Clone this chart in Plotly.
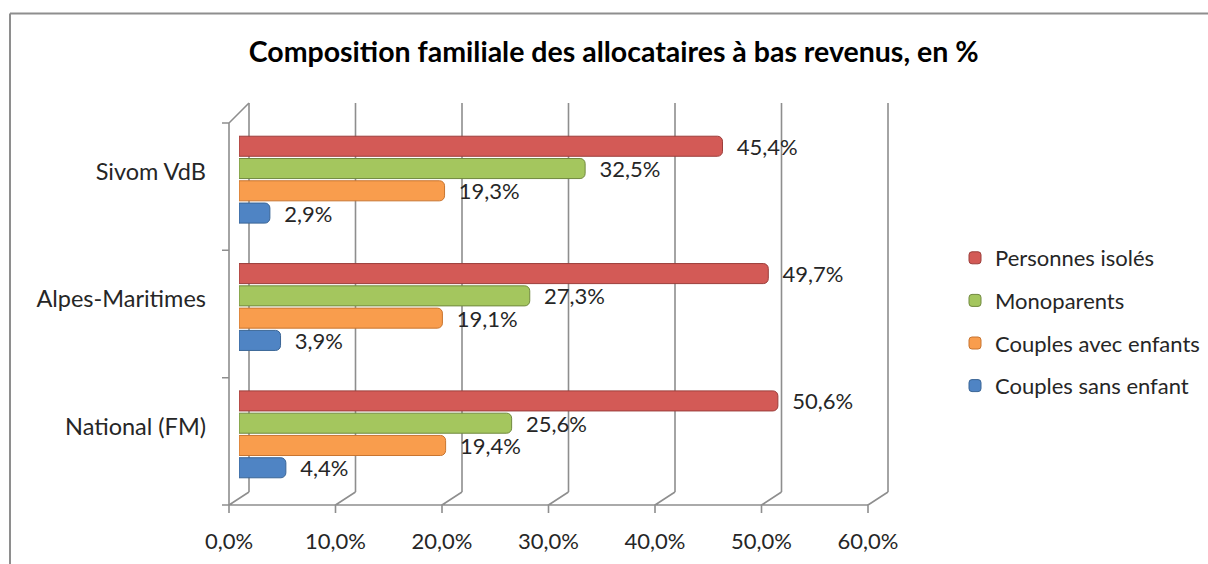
import plotly.graph_objects as go

# ---- data ----
categories = ["Sivom VdB", "Alpes-Maritimes", "National (FM)"]
series_names = ["Personnes isolés", "Monoparents", "Couples avec enfants", "Couples sans enfant"]
personnes_isoles = [45.4, 49.7, 50.6]
monoparents = [32.5, 27.3, 25.6]
couples_avec_enfants = [19.3, 19.1, 19.4]
couples_sans_enfant = [2.9, 3.9, 4.4]
x_ticks = [0, 10, 20, 30, 40, 50, 60]
x_tick_labels = ["0,0%", "10,0%", "20,0%", "30,0%", "40,0%", "50,0%", "60,0%"]

series_values = [personnes_isoles, monoparents, couples_avec_enfants, couples_sans_enfant]
fill_colors = ["#D35A56", "#A4C65E", "#F99D4D", "#4F84C4"]
edge_colors = ["#9C3E3B", "#71893F", "#C87530", "#3A6595"]

W, H = 1208, 564
ML, MR, MT, MB = 239, 330, 116, 66
PW = W - ML - MR
PH = H - MT - MB
XMAX = 60
upx = PW / XMAX  # pixels per unit

fig = go.Figure()
for i, (name, vals) in enumerate(zip(series_names, series_values)):
    fig.add_trace(go.Bar(
        y=categories, x=vals, orientation="h", name=name,
        marker=dict(color=fill_colors[i], line=dict(color=edge_colors[i], width=1), cornerradius=5),
        text=vals, texttemplate="\u00a0\u00a0%{x:.1f}%", textposition="outside",
        textfont=dict(family="Lato", size=22, color="#262626"),
        constraintext="none", cliponaxis=False,
        legendgroup=name,
    ))

line_col = "#8e8e8e"
shapes = []
# 3D back-wall gridlines with floor diagonals, front floor edge and front tick marks
back_top = PH + 13
for j, t in enumerate(x_ticks):
    path = f"M 10,6 L 10,{back_top} M 10,6 L -10,-7 L -10,-15"
    if j < len(x_ticks) - 1:
        step = (x_ticks[j + 1] - t) * upx
        path += f" M -10,-7 L {step - 10:.1f},-7"
    shapes.append(dict(
        type="path", xref="paper", yref="paper", xsizemode="pixel", ysizemode="pixel",
        xanchor=t / XMAX, yanchor=0, path=path,
        line=dict(color=line_col, width=1.6), layer="below",
    ))
# left wall front edge, top diagonal and category boundary ticks
band = PH / len(categories)
p = f"M -10,-7 L -10,{PH - 7} L 10,{back_top}"
for k in range(len(categories) + 1):
    yy = k * band - 7
    p += f" M -17,{yy:.1f} L -10,{yy:.1f}"
shapes.append(dict(type="path", xref="paper", yref="paper", xsizemode="pixel", ysizemode="pixel",
                   xanchor=0, yanchor=0, path=p, line=dict(color=line_col, width=1.6), layer="below"))
# chart-area frame (top and left edges)
fx = (10 - ML) / PW
fy_top = (H - MB - 13.5) / PH
fy_bot = (H - MB - H) / PH
shapes.append(dict(type="line", xref="paper", yref="paper", x0=fx, x1=(W - ML) / PW, y0=fy_top, y1=fy_top,
                   line=dict(color="#8e8e8e", width=2)))
shapes.append(dict(type="line", xref="paper", yref="paper", x0=fx, x1=fx, y0=fy_top, y1=fy_bot,
                   line=dict(color="#8e8e8e", width=2)))

fig.update_layout(
    width=W, height=H,
    margin=dict(l=ML, r=MR, t=MT, b=MB, autoexpand=False),
    paper_bgcolor="white", plot_bgcolor="white",
    separators=",.",
    barmode="group", bargap=0.3, bargroupgap=0.1,
    font=dict(family="Lato", color="#262626"),
    title=dict(text="<b>Composition familiale des allocataires à bas revenus, en %</b>",
               x=0.508, xref="container", xanchor="center",
               y=1 - 52 / H, yref="container", yanchor="middle",
               font=dict(family="Lato", size=28.5, color="#000000")),
    xaxis=dict(range=[0, XMAX], tickvals=x_ticks, ticktext=x_tick_labels,
               showgrid=False, zeroline=False, showline=False, ticks="", automargin=False,
               tickfont=dict(family="Lato", size=22, color="#262626"),
               ticklabelstandoff=28, ticklabelshift=-10),
    yaxis=dict(categoryorder="array", categoryarray=categories, autorange="reversed",
               showgrid=False, zeroline=False, showline=False, ticks="", automargin=False,
               tickfont=dict(family="Lato", size=23.5, color="#262626"),
               ticklabelstandoff=32, ticklabelshift=8),
    legend=dict(x=(955 - ML) / PW, xanchor="left", y=(H - MB - 322) / PH, yanchor="middle",
                traceorder="grouped", tracegroupgap=11,
                font=dict(family="Lato", size=22, color="#262626")),
    shapes=shapes,
    showlegend=True,
)

fig.write_html("out.html", config={"displayModeBar": False},
               post_script="document.body.style.margin='0';")
